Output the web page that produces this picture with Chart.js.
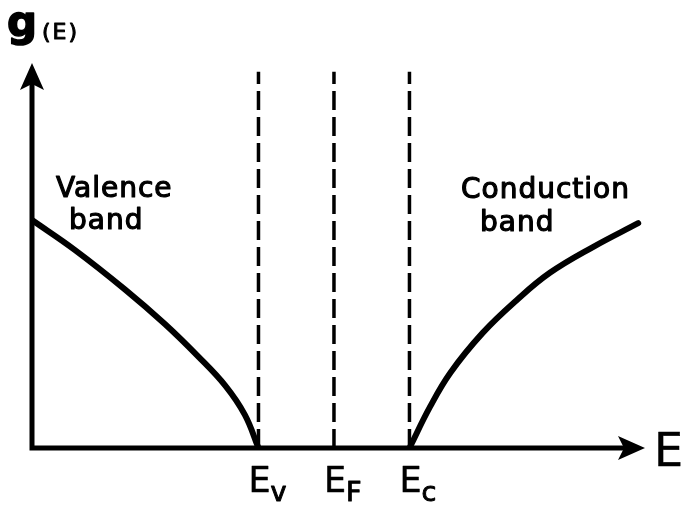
<!DOCTYPE html>
<html lang="en">
<head>
    <meta charset="UTF-8">
    <title>Density of States</title>
    <script src="https://cdn.jsdelivr.net/npm/chart.js"></script>
    <style>
        body { margin: 0; background: #fff; }
        canvas { display: block; }
    </style>
</head>
<body>
    <canvas id="dosChart" width="686" height="511"></canvas>
    <script>
        // energies (arbitrary units) and density of states
        const valenceE = [0, 0.57, 1.23, 1.76, 2.20, 2.56, 2.82, 3.0];
        const valenceG = [5.92, 5.14, 4.12, 3.22, 2.38, 1.62, 0.86, 0];
        const conductionE = [5.0, 5.27, 5.54, 5.97, 6.42, 6.86, 7.43, 8.03];
        const conductionG = [0, 1.06, 1.95, 2.99, 3.84, 4.55, 5.22, 5.84];

        // band edges and Fermi level
        const levelNames = ['E', 'E', 'E'];
        const levelSubs = ['v', 'F', 'c'];
        const levelE = [3.0, 4.0, 5.0];
        const levelTop = 9.77;

        const bandLabels = [['Valence', 'band'], ['Conduction', 'band']];

        const toPoints = (xs, ys) => xs.map((x, i) => ({ x: x, y: ys[i] }));

        const dashedSets = levelE.map(e => ({
            data: [{ x: e, y: 0 }, { x: e, y: levelTop }],
            borderColor: '#000',
            borderWidth: 3.5,
            borderDash: [19, 7],
            pointRadius: 0,
            showLine: true
        }));

        const curveStyle = {
            borderColor: '#000',
            borderWidth: 6,
            pointRadius: 0,
            showLine: true,
            tension: 0.4,
            borderCapStyle: 'round'
        };

        // heavier hand-lettered text: fill plus a thin outline
        function letter(ctx, text, x, y, weight) {
            ctx.fillText(text, x, y);
            if (weight) {
                ctx.lineWidth = weight;
                ctx.strokeText(text, x, y);
            }
        }

        // axes with arrowheads and labels
        const sketchPlugin = {
            id: 'sketch',
            afterDatasetsDraw(chart) {
                const ctx = chart.ctx;
                const xs = chart.scales.x;
                const ys = chart.scales.y;
                const x0 = xs.getPixelForValue(0);
                const y0 = ys.getPixelForValue(0);
                const xEnd = xs.right;
                const yEnd = ys.top;

                ctx.save();
                ctx.strokeStyle = '#000';
                ctx.fillStyle = '#000';
                ctx.lineWidth = 5;
                ctx.lineCap = 'butt';
                ctx.beginPath();
                ctx.moveTo(x0, y0 + 2.5);
                ctx.lineTo(x0, yEnd + 12);
                ctx.moveTo(x0 - 2.5, y0);
                ctx.lineTo(xEnd - 12, y0);
                ctx.stroke();

                // arrowheads
                ctx.beginPath();
                ctx.moveTo(x0, yEnd);
                ctx.lineTo(x0 + 12, yEnd + 27);
                ctx.lineTo(x0, yEnd + 21);
                ctx.lineTo(x0 - 12, yEnd + 27);
                ctx.closePath();
                ctx.fill();
                ctx.beginPath();
                ctx.moveTo(xEnd, y0);
                ctx.lineTo(xEnd - 27, y0 - 12);
                ctx.lineTo(xEnd - 21, y0);
                ctx.lineTo(xEnd - 27, y0 + 12);
                ctx.closePath();
                ctx.fill();

                ctx.textBaseline = 'alphabetic';
                ctx.textAlign = 'left';
                ctx.lineJoin = 'round';

                // axis titles
                ctx.font = 'bold 42px "DejaVu Sans"';
                letter(ctx, 'g', 7, 36, 1.5);
                ctx.font = '22px "DejaVu Sans"';
                ctx.letterSpacing = '2px';
                letter(ctx, '(E)', 42, 39, 1);
                ctx.letterSpacing = '0px';
                ctx.font = '46px "DejaVu Sans"';
                letter(ctx, 'E', xEnd + 9, y0 + 18, 0.5);

                // level labels under the axis
                levelE.forEach((e, i) => {
                    const px = xs.getPixelForValue(e);
                    ctx.font = '35px "DejaVu Sans"';
                    letter(ctx, levelNames[i], px - 10, y0 + 44, 0.5);
                    const w = ctx.measureText(levelNames[i]).width;
                    ctx.font = '27px "DejaVu Sans"';
                    letter(ctx, levelSubs[i], px - 10 + w, y0 + 53, 1);
                });

                // band names
                ctx.font = '28px "DejaVu Sans"';
                ctx.letterSpacing = '1px';
                letter(ctx, bandLabels[0][0], 56, 197, 1.2);
                letter(ctx, bandLabels[0][1], 69, 229, 1.2);
                letter(ctx, bandLabels[1][0], 461, 198, 1.2);
                letter(ctx, bandLabels[1][1], 480, 231, 1.2);
                ctx.restore();
            }
        };

        new Chart(document.getElementById('dosChart'), {
            type: 'scatter',
            data: {
                datasets: [
                    Object.assign({ label: 'Valence band', data: toPoints(valenceE, valenceG) }, curveStyle),
                    Object.assign({ label: 'Conduction band', data: toPoints(conductionE, conductionG) }, curveStyle),
                    ...dashedSets
                ]
            },
            options: {
                responsive: false,
                animation: false,
                layout: { padding: { left: 32, right: 41, top: 63, bottom: 63 } },
                scales: {
                    x: { type: 'linear', min: 0, max: 8.12, display: false },
                    y: { type: 'linear', min: 0, max: 10, display: false }
                },
                plugins: {
                    legend: { display: false },
                    tooltip: { enabled: false }
                }
            },
            plugins: [sketchPlugin]
        });
    </script>
</body>
</html>
